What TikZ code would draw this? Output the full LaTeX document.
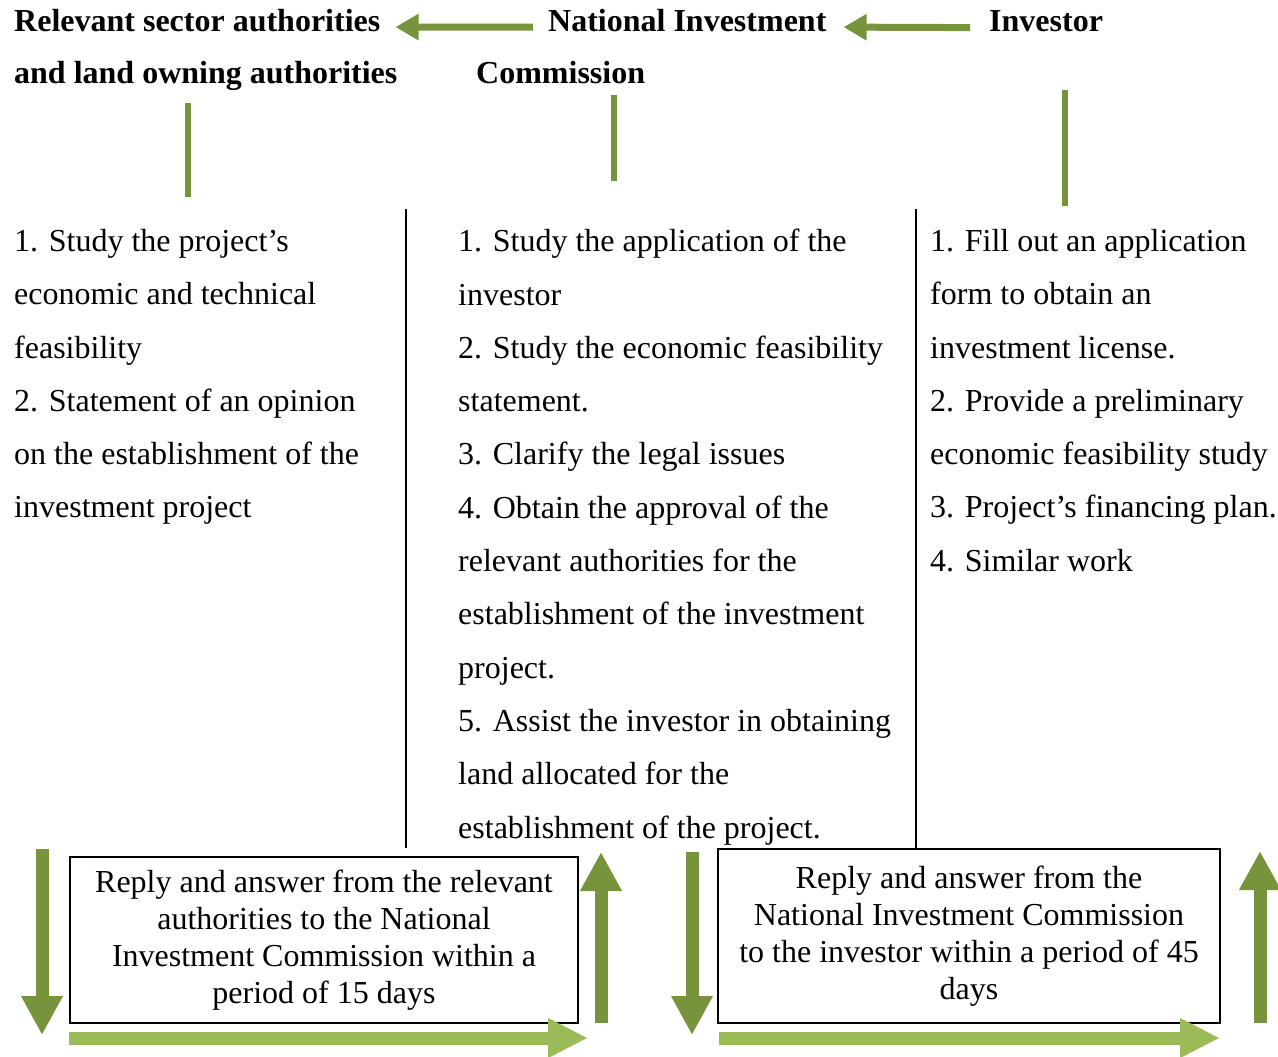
\documentclass[tikz,border=0pt]{standalone}
\usepackage{fontspec}
\setmainfont{Liberation Serif}
\usetikzlibrary{arrows.meta,positioning}
\definecolor{olivedark}{RGB}{119,147,60}
\definecolor{olivelight}{RGB}{155,187,89}

\begin{document}
\begin{tikzpicture}[x=1pt,y=-1pt,
  head/.style={font=\fontsize{32}{53}\selectfont\bfseries, inner sep=0pt, anchor=base west},
  column/.style={font=\fontsize{32}{53.3}\selectfont, inner sep=0pt, anchor=north west, align=left},
  reply/.style={draw, line width=1.8pt, font=\fontsize{32}{37}\selectfont, align=center, inner sep=0pt},
  flow/.style={draw=olivedark, line width=7pt, -{Triangle[length=23pt,width=25pt]}},
  stem/.style={draw=olivedark, line width=6pt},
  fatdown/.style={draw=olivedark, line width=13pt, -{Triangle[length=39pt,width=39pt]}},
  fatright/.style={draw=olivelight, line width=13pt, -{Triangle[length=40pt,width=37pt]}}]
  \useasboundingbox (0,0) rectangle (1278,1057);

  % Headers
  \node[head] (rel1) at (14,32) {Relevant sector authorities};
  \node[head] (rel2) at (14,84) {and land owning authorities};
  \node[head] (nic1) at (548,32) {National Investment};
  \node[head] (nic2) at (476,84) {Commission};
  \node[head] (inv1) at (989,32) {Investor};

  % Arrows between the headers
  \draw[flow, shorten <=15pt, shorten >=15pt] ([yshift=-6pt]nic1.west) -- ([yshift=-6pt]rel1.east);
  \draw[flow, shorten <=19pt, shorten >=17pt] ([yshift=-6pt]inv1.west) -- ([yshift=-6pt]nic1.east);

  % Stems under the headers
  \draw[stem] (188,103) -- (188,197);
  \draw[stem] (614,95) -- (614,181);
  \draw[stem] (1065,90) -- (1065,206);

  % Column separators
  \draw[line width=2pt] (406,209) -- (406,848);
  \draw[line width=2pt] (916,209) -- (916,848);

  % Tasks of each party
  \node[column] (tasks1) at (14,229) {1. Study the project’s\\economic and technical\\feasibility\\2. Statement of an opinion\\on the establishment of the\\investment project};
  \node[column] (tasks2) at (458,229) {1. Study the application of the\\investor\\2. Study the economic feasibility\\statement.\\3. Clarify the legal issues\\4. Obtain the approval of the\\relevant authorities for the\\establishment of the investment\\project.\\5. Assist the investor in obtaining\\land allocated for the\\establishment of the project.};
  \node[column] (tasks3) at (930,229) {1. Fill out an application\\form to obtain an\\investment license.\\2. Provide a preliminary\\economic feasibility study\\3. Project’s financing plan.\\4. Similar work};

  % Reply boxes
  \node[reply, minimum width=508pt, minimum height=166pt] (reply1) at (324,940)
    {Reply and answer from the relevant\\authorities to the National\\Investment Commission within a\\period of 15 days};
  \node[reply, minimum width=502pt, minimum height=174pt] (reply2) at (969,936)
    {Reply and answer from the\\National Investment Commission\\to the investor within a period of 45\\days};

  % Block arrows round the boxes
  \draw[fatdown] (42,849) -- (42,1035);
  \draw[fatright] (69,1038) -- (588,1038);
  \draw[fatdown] (601,1023) -- (601,852);
  \draw[fatdown] (692,852) -- (692,1035);
  \draw[fatright] (719,1038) -- (1220,1038);
  \draw[fatdown] (1260,1023) -- (1260,851);
\end{tikzpicture}
\end{document}
